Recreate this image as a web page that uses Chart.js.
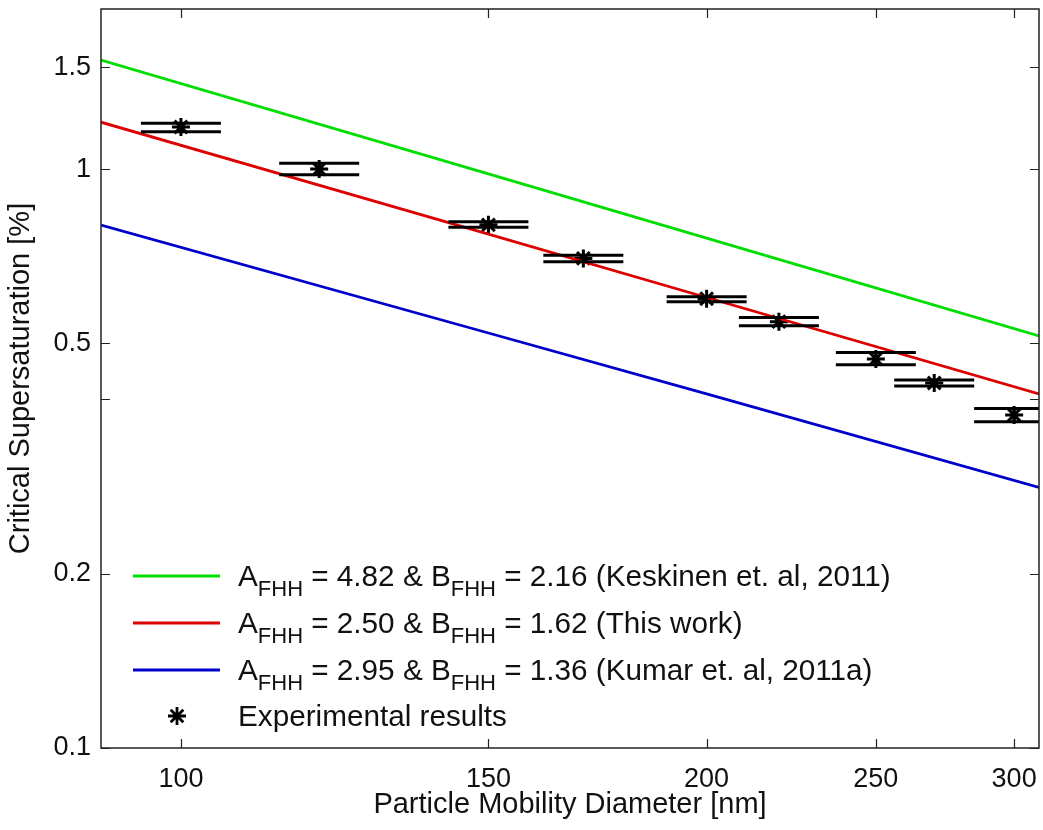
<!DOCTYPE html>
<html lang="en">
<head>
<meta charset="UTF-8">
<title>Critical Supersaturation vs Particle Mobility Diameter</title>
<script src="https://cdn.jsdelivr.net/npm/chart.js@4.4.0/dist/chart.umd.min.js"></script>
<style>
  html, body { margin: 0; padding: 0; background: #fff; }
  .wrap { width: 1043px; height: 830px; position: relative; }
</style>
</head>
<body>
<div class="wrap"><canvas id="chart"></canvas></div>
<script>
// Model curves (at a few diameters)
const fitDiameters = [90, 150, 200, 310];
const keskinenFit = [1.543, 0.981, 0.760, 0.515];
const thisWorkFit = [1.205, 0.772, 0.600, 0.409];
const kumarFit = [0.800, 0.521, 0.409, 0.282];

// Experimental results
const expDiameters = [100, 120, 150, 170, 200, 220, 250, 270, 300];
const expSc = [1.182, 1.000, 0.801, 0.701, 0.597, 0.545, 0.470, 0.427, 0.376];
const expScLow = [1.160, 0.978, 0.793, 0.692, 0.590, 0.536, 0.459, 0.422, 0.366];
const expScHigh = [1.200, 1.023, 0.811, 0.710, 0.602, 0.554, 0.482, 0.432, 0.386];

// Axis ticks
const xTicks = [100, 150, 200, 250, 300];
const yTicks = [0.1, 0.2, 0.4, 0.5, 1, 1.5];
const yTickLabels = ['0.1', '0.2', '', '0.5', '1', '1.5'];

// Legend entries: [text, isSubscript]
const legendRows = [
    [['A', 0], ['FHH', 1], [' = 4.82 & B', 0], ['FHH', 1], [' = 2.16 (Keskinen et. al, 2011)', 0]],
    [['A', 0], ['FHH', 1], [' = 2.50 & B', 0], ['FHH', 1], [' = 1.62 (This work)', 0]],
    [['A', 0], ['FHH', 1], [' = 2.95 & B', 0], ['FHH', 1], [' = 1.36 (Kumar et. al, 2011a)', 0]],
    [['Experimental results', 0]]
];

const FONT = '"Liberation Sans", Arial, sans-serif';
const colors = { green: '#00dd00', red: '#dd0000', blue: '#0000cc' };

function pts(xs, ys) {
    return xs.map((x, i) => ({ x: x, y: ys[i] }));
}

function lineSet(label, ys, color) {
    return {
        label: label,
        data: pts(fitDiameters, ys),
        showLine: true,
        borderColor: color,
        borderWidth: 2.8,
        pointRadius: 0,
        fill: false
    };
}

// drop the label overhang padding so the plot box fills the canvas
function noOverhang(s) {
    s.paddingTop = 0;
    s.paddingBottom = 0;
    s.paddingLeft = 0;
    s.paddingRight = 0;
}

// box around plot + inward tick marks
const frame = {
    id: 'frame',
    afterDraw(chart) {
        const { ctx, chartArea: a, scales } = chart;
        ctx.save();
        ctx.strokeStyle = '#222';
        ctx.lineWidth = 1.5;
        ctx.strokeRect(a.left, a.top, a.right - a.left, a.bottom - a.top);
        ctx.lineWidth = 1.2;
        ctx.beginPath();
        xTicks.forEach(v => {
            const px = Math.round(scales.x.getPixelForValue(v)) + 0.5;
            ctx.moveTo(px, a.bottom); ctx.lineTo(px, a.bottom - 9);
            ctx.moveTo(px, a.top); ctx.lineTo(px, a.top + 9);
        });
        yTicks.forEach(v => {
            const py = Math.round(scales.y.getPixelForValue(v)) + 0.5;
            ctx.moveTo(a.left, py); ctx.lineTo(a.left + 9, py);
            ctx.moveTo(a.right, py); ctx.lineTo(a.right - 9, py);
        });
        ctx.stroke();
        ctx.restore();
    }
};

// error bar caps for the experimental points
const errorCaps = {
    id: 'errorCaps',
    afterDatasetsDraw(chart) {
        const { ctx, chartArea: a, scales } = chart;
        const half = 40;
        ctx.save();
        ctx.beginPath();
        ctx.rect(a.left, a.top, a.right - a.left, a.bottom - a.top);
        ctx.clip();
        ctx.strokeStyle = '#000';
        ctx.lineWidth = 3;
        ctx.beginPath();
        expDiameters.forEach((d, i) => {
            const px = scales.x.getPixelForValue(d);
            const lo = scales.y.getPixelForValue(expScLow[i]);
            const hi = scales.y.getPixelForValue(expScHigh[i]);
            ctx.moveTo(px - half, lo); ctx.lineTo(px + half, lo);
            ctx.moveTo(px - half, hi); ctx.lineTo(px + half, hi);
            ctx.moveTo(px, lo); ctx.lineTo(px, hi);
        });
        ctx.stroke();
        ctx.restore();
    }
};

// legend with subscripts, inside the plot
const subLegend = {
    id: 'subLegend',
    afterDraw(chart) {
        const { ctx } = chart;
        const lineColors = [colors.green, colors.red, colors.blue];
        const rowY = [576, 623, 670, 716];
        ctx.save();
        rowY.forEach((y, r) => {
            if (r < 3) {
                ctx.strokeStyle = lineColors[r];
                ctx.lineWidth = 2.8;
                ctx.beginPath();
                ctx.moveTo(133, y); ctx.lineTo(220, y);
                ctx.stroke();
            } else {
                ctx.strokeStyle = '#000';
                ctx.fillStyle = '#000';
                Chart.helpers.drawPoint(ctx, {
                    pointStyle: 'star', radius: 9, borderWidth: 1.5
                }, 177, y);
            }
            let x = 238;
            ctx.fillStyle = '#111';
            ctx.textBaseline = 'alphabetic';
            legendRows[r].forEach(([txt, sub]) => {
                ctx.font = (sub ? '22px ' : '29.7px ') + FONT;
                ctx.fillText(txt, x, sub ? y + 20 : y + 10);
                x += ctx.measureText(txt).width;
            });
        });
        ctx.restore();
    }
};

new Chart(document.getElementById('chart'), {
    type: 'scatter',
    data: {
        datasets: [
            lineSet('Keskinen et. al, 2011', keskinenFit, colors.green),
            lineSet('This work', thisWorkFit, colors.red),
            lineSet('Kumar et. al, 2011a', kumarFit, colors.blue),
            {
                label: 'Experimental results',
                data: pts(expDiameters, expSc),
                pointStyle: 'star',
                pointRadius: 9,
                borderColor: '#000',
                backgroundColor: '#000',
                borderWidth: 3
            }
        ]
    },
    options: {
        responsive: true,
        maintainAspectRatio: false,
        animation: false,
        layout: { autoPadding: false, padding: { top: 9, right: 4, left: 0, bottom: 0 } },
        plugins: {
            legend: { display: false },
            tooltip: { enabled: false }
        },
        scales: {
            x: {
                type: 'logarithmic',
                position: 'bottom',
                min: 90,
                max: 310,
                afterBuildTicks: s => { s.ticks = xTicks.map(v => ({ value: v })); },
                afterFit: s => { s.height = 82; noOverhang(s); },
                grid: { drawOnChartArea: false, drawTicks: false },
                border: { display: false },
                ticks: {
                    autoSkip: false,
                    maxRotation: 0,
                    padding: 15,
                    color: '#111',
                    font: { family: FONT, size: 27 },
                    callback: v => String(v)
                },
                title: {
                    display: true,
                    text: 'Particle Mobility Diameter [nm]',
                    color: '#111',
                    font: { family: FONT, size: 29 },
                    padding: { top: 0, bottom: 8 }
                }
            },
            y: {
                type: 'logarithmic',
                min: 0.1,
                max: 1.89,
                afterBuildTicks: s => { s.ticks = yTicks.map(v => ({ value: v })); },
                afterFit: s => { s.width = 101; noOverhang(s); },
                grid: { drawOnChartArea: false, drawTicks: false },
                border: { display: false },
                ticks: {
                    autoSkip: false,
                    padding: 10,
                    color: '#111',
                    font: { family: FONT, size: 27 },
                    callback: v => yTickLabels[yTicks.indexOf(v)]
                },
                title: {
                    display: true,
                    text: 'Critical Supersaturation [%]',
                    color: '#111',
                    font: { family: FONT, size: 29 },
                    padding: { top: 4, bottom: 0 }
                }
            }
        }
    },
    plugins: [frame, errorCaps, subLegend]
});
</script>
</body>
</html>
